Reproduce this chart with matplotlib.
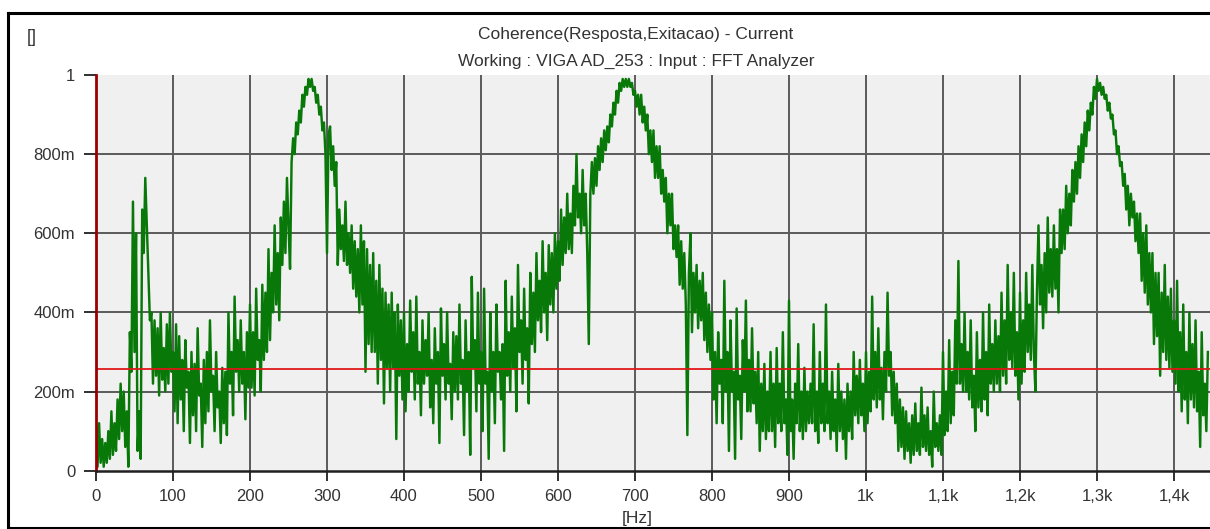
import numpy as np
import matplotlib
matplotlib.use("Agg")
import matplotlib.pyplot as plt
from matplotlib.lines import Line2D

# Coherence estimate, one sample every 2 Hz from 0 Hz to 1444 Hz
freq_step = 2
coherence = [
    # 0 - 98 Hz
    0.11, 0.01, 0.12, 0.02, 0.08, 0.01, 0.07, 0.02, 0.10, 0.03,
    0.15, 0.04, 0.12, 0.05, 0.18, 0.08, 0.22, 0.10, 0.20, 0.06,
    0.15, 0.01, 0.35, 0.25, 0.68, 0.30, 0.60, 0.05, 0.15, 0.03,
    0.66, 0.55, 0.74, 0.62, 0.50, 0.38, 0.40, 0.22, 0.38, 0.24,
    0.36, 0.19, 0.40, 0.23, 0.31, 0.20, 0.37, 0.22, 0.40, 0.25,
    # 100 - 198 Hz
    0.30, 0.15, 0.37, 0.12, 0.34, 0.18, 0.28, 0.10, 0.33, 0.21,
    0.25, 0.07, 0.30, 0.14, 0.27, 0.10, 0.36, 0.19, 0.22, 0.06,
    0.28, 0.12, 0.30, 0.15, 0.38, 0.20, 0.24, 0.10, 0.30, 0.16,
    0.20, 0.07, 0.26, 0.12, 0.25, 0.09, 0.40, 0.22, 0.30, 0.14,
    0.44, 0.25, 0.33, 0.20, 0.38, 0.22, 0.30, 0.13, 0.35, 0.21,
    # 200 - 298 Hz
    0.42, 0.21, 0.35, 0.19, 0.46, 0.28, 0.33, 0.20, 0.47, 0.28,
    0.45, 0.30, 0.56, 0.33, 0.50, 0.40, 0.62, 0.42, 0.55, 0.38,
    0.64, 0.52, 0.68, 0.55, 0.74, 0.62, 0.51, 0.78, 0.84, 0.80,
    0.88, 0.85, 0.91, 0.88, 0.95, 0.92, 0.97, 0.95, 0.99, 0.97,
    0.99, 0.96, 0.97, 0.93, 0.95, 0.90, 0.92, 0.86, 0.88, 0.80,
    # 300 - 398 Hz
    0.55, 0.85, 0.87, 0.76, 0.82, 0.72, 0.78, 0.52, 0.66, 0.56,
    0.62, 0.53, 0.68, 0.52, 0.60, 0.50, 0.62, 0.46, 0.58, 0.44,
    0.56, 0.40, 0.62, 0.42, 0.58, 0.25, 0.56, 0.32, 0.52, 0.30,
    0.55, 0.30, 0.48, 0.22, 0.52, 0.28, 0.46, 0.17, 0.45, 0.26,
    0.42, 0.20, 0.45, 0.26, 0.40, 0.08, 0.42, 0.24, 0.38, 0.18,
    # 400 - 498 Hz
    0.40, 0.15, 0.32, 0.20, 0.43, 0.25, 0.35, 0.18, 0.44, 0.22,
    0.30, 0.14, 0.38, 0.22, 0.33, 0.24, 0.40, 0.16, 0.28, 0.12,
    0.36, 0.22, 0.30, 0.07, 0.41, 0.24, 0.32, 0.18, 0.40, 0.22,
    0.27, 0.13, 0.35, 0.20, 0.34, 0.18, 0.42, 0.22, 0.28, 0.09,
    0.38, 0.20, 0.30, 0.04, 0.49, 0.26, 0.33, 0.15, 0.45, 0.22,
    # 500 - 598 Hz
    0.30, 0.10, 0.46, 0.22, 0.25, 0.03, 0.40, 0.20, 0.30, 0.12,
    0.42, 0.25, 0.30, 0.18, 0.32, 0.05, 0.48, 0.24, 0.35, 0.20,
    0.44, 0.26, 0.36, 0.15, 0.52, 0.30, 0.38, 0.22, 0.46, 0.28,
    0.36, 0.17, 0.50, 0.32, 0.45, 0.30, 0.55, 0.38, 0.48, 0.35,
    0.58, 0.40, 0.50, 0.33, 0.57, 0.42, 0.55, 0.40, 0.60, 0.46,
    # 600 - 698 Hz
    0.58, 0.48, 0.66, 0.52, 0.64, 0.55, 0.70, 0.56, 0.65, 0.55,
    0.72, 0.62, 0.80, 0.64, 0.70, 0.60, 0.76, 0.62, 0.70, 0.55,
    0.32, 0.70, 0.78, 0.70, 0.79, 0.72, 0.82, 0.76, 0.84, 0.78,
    0.86, 0.81, 0.87, 0.83, 0.90, 0.87, 0.93, 0.90, 0.96, 0.93,
    0.98, 0.96, 0.99, 0.97, 0.99, 0.97, 0.99, 0.97, 0.98, 0.95,
    # 700 - 798 Hz
    0.96, 0.92, 0.95, 0.90, 0.95, 0.88, 0.92, 0.86, 0.90, 0.80,
    0.86, 0.78, 0.86, 0.74, 0.82, 0.74, 0.82, 0.70, 0.76, 0.68,
    0.74, 0.60, 0.70, 0.62, 0.70, 0.56, 0.62, 0.54, 0.62, 0.47,
    0.58, 0.46, 0.55, 0.42, 0.09, 0.50, 0.60, 0.35, 0.50, 0.40,
    0.52, 0.36, 0.48, 0.38, 0.50, 0.33, 0.45, 0.30, 0.42, 0.28,
    # 800 - 898 Hz
    0.40, 0.18, 0.30, 0.12, 0.35, 0.22, 0.28, 0.12, 0.48, 0.20,
    0.30, 0.05, 0.38, 0.20, 0.25, 0.03, 0.41, 0.18, 0.24, 0.08,
    0.33, 0.20, 0.43, 0.15, 0.28, 0.15, 0.36, 0.17, 0.25, 0.12,
    0.30, 0.05, 0.22, 0.10, 0.27, 0.08, 0.20, 0.10, 0.30, 0.10,
    0.22, 0.06, 0.31, 0.12, 0.22, 0.10, 0.35, 0.12, 0.18, 0.04,
    # 900 - 998 Hz
    0.43, 0.10, 0.18, 0.03, 0.22, 0.12, 0.32, 0.10, 0.20, 0.08,
    0.26, 0.10, 0.20, 0.12, 0.22, 0.12, 0.37, 0.10, 0.20, 0.07,
    0.30, 0.12, 0.22, 0.10, 0.42, 0.12, 0.20, 0.08, 0.25, 0.10,
    0.18, 0.05, 0.27, 0.10, 0.20, 0.08, 0.18, 0.03, 0.22, 0.10,
    0.20, 0.08, 0.30, 0.14, 0.24, 0.12, 0.28, 0.14, 0.22, 0.10,
    # 1000 - 1098 Hz
    0.30, 0.12, 0.25, 0.15, 0.44, 0.18, 0.30, 0.16, 0.36, 0.18,
    0.26, 0.13, 0.30, 0.20, 0.45, 0.24, 0.30, 0.14, 0.25, 0.12,
    0.22, 0.05, 0.18, 0.06, 0.16, 0.03, 0.15, 0.05, 0.12, 0.02,
    0.14, 0.04, 0.17, 0.05, 0.12, 0.04, 0.21, 0.06, 0.14, 0.05,
    0.16, 0.04, 0.10, 0.01, 0.20, 0.06, 0.12, 0.05, 0.14, 0.04,
    # 1100 - 1198 Hz
    0.30, 0.09, 0.20, 0.10, 0.33, 0.12, 0.25, 0.14, 0.38, 0.22,
    0.53, 0.22, 0.32, 0.20, 0.40, 0.20, 0.30, 0.18, 0.38, 0.16,
    0.24, 0.10, 0.35, 0.16, 0.28, 0.15, 0.40, 0.18, 0.30, 0.14,
    0.42, 0.22, 0.32, 0.20, 0.38, 0.22, 0.34, 0.20, 0.45, 0.24,
    0.38, 0.22, 0.52, 0.28, 0.40, 0.26, 0.50, 0.24, 0.35, 0.18,
    # 1200 - 1298 Hz
    0.45, 0.22, 0.38, 0.25, 0.50, 0.30, 0.42, 0.28, 0.52, 0.30,
    0.20, 0.45, 0.62, 0.42, 0.52, 0.36, 0.55, 0.40, 0.64, 0.45,
    0.56, 0.44, 0.62, 0.46, 0.56, 0.40, 0.66, 0.55, 0.66, 0.56,
    0.72, 0.60, 0.70, 0.62, 0.76, 0.68, 0.78, 0.70, 0.82, 0.74,
    0.85, 0.78, 0.88, 0.82, 0.91, 0.86, 0.93, 0.90, 0.97, 0.94,
    # 1300 - 1398 Hz
    0.99, 0.96, 0.98, 0.95, 0.97, 0.94, 0.95, 0.91, 0.93, 0.89,
    0.90, 0.85, 0.86, 0.80, 0.82, 0.77, 0.78, 0.72, 0.75, 0.66,
    0.72, 0.62, 0.70, 0.64, 0.68, 0.58, 0.65, 0.55, 0.65, 0.48,
    0.60, 0.45, 0.62, 0.42, 0.55, 0.40, 0.55, 0.32, 0.50, 0.34,
    0.50, 0.24, 0.45, 0.30, 0.52, 0.28, 0.44, 0.26, 0.46, 0.25,
    # 1400 - 1444 Hz
    0.38, 0.22, 0.48, 0.20, 0.35, 0.15, 0.42, 0.18, 0.30, 0.12,
    0.40, 0.18, 0.32, 0.16, 0.38, 0.15, 0.25, 0.06, 0.35, 0.14,
    0.22, 0.10, 0.30,
]
freq = np.arange(len(coherence)) * freq_step

threshold = 0.258

x_ticks = [0, 100, 200, 300, 400, 500, 600, 700, 800, 900,
           1000, 1100, 1200, 1300, 1400]
x_tick_labels = ["0", "100", "200", "300", "400", "500", "600", "700", "800",
                 "900", "1k", "1,1k", "1,2k", "1,3k", "1,4k"]
y_ticks = [0.0, 0.2, 0.4, 0.6, 0.8, 1.0]
y_tick_labels = ["0", "200m", "400m", "600m", "800m", "1"]

title_lines = ["Coherence(Resposta,Exitacao) - Current",
               "Working : VIGA AD_253 : Input : FFT Analyzer"]

plt.rcParams["font.family"] = ["Liberation Sans", "DejaVu Sans"]

W, H = 1210, 529
fig = plt.figure(figsize=(W / 100, H / 100), dpi=100, facecolor="white")

# plot area in pixel coordinates
left_px, right_px, top_px, bottom_px = 96, 1210, 75, 470.7
ax = fig.add_axes([left_px / W, 1 - bottom_px / H,
                   (right_px - left_px) / W, (bottom_px - top_px) / H])
ax.set_facecolor("#f0f0f0")
ax.set_xlim(0, (right_px - left_px) / 0.77)
ax.set_ylim(0, 1)

grid_col = "#5a5a5a"
for xv in x_ticks[1:]:
    ax.axvline(xv, color=grid_col, lw=1.4, zorder=1)
for yv in y_ticks[1:-1]:
    ax.axhline(yv, color=grid_col, lw=1.4, zorder=1)

ax.plot(freq, coherence, color="#087808", lw=1.75, zorder=3)
ax.axhline(threshold, color="#e01818", lw=1.3, zorder=4)

for side in ("top", "right"):
    ax.spines[side].set_visible(False)
ax.spines["left"].set_color("#9a0000")
ax.spines["left"].set_linewidth(2.0)
ax.spines["bottom"].set_color("#202020")
ax.spines["bottom"].set_linewidth(1.8)
ax.spines["left"].set_zorder(5)
ax.spines["bottom"].set_zorder(5)

ax.set_xticks(x_ticks)
ax.set_xticklabels(x_tick_labels)
ax.set_yticks(y_ticks)
ax.set_yticklabels(y_tick_labels)
ax.tick_params(axis="x", length=7, width=1.4, color="#303030", pad=6,
               labelsize=12, labelcolor="#333333")
ax.tick_params(axis="y", length=9, width=1.4, color="#303030", pad=6,
               labelsize=12, labelcolor="#333333")

# titles and unit labels
fig.text(636 / W, 1 - 35 / H, title_lines[0], ha="center", va="center",
         fontsize=12.5, color="#333333")
fig.text(636 / W, 1 - 61 / H, title_lines[1], ha="center", va="center",
         fontsize=12.5, color="#333333")
fig.text(32 / W, 1 - 37 / H, "[]", ha="center", va="center",
         fontsize=13, color="#333333")
fig.text(637 / W, 1 - 518 / H, "[Hz]", ha="center", va="center",
         fontsize=12.5, color="#333333")

# window frame
frame_kw = dict(color="black", lw=2.2, transform=fig.transFigure)
fig.add_artist(Line2D([8 / W, 1], [1 - 12.5 / H, 1 - 12.5 / H], **frame_kw))
fig.add_artist(Line2D([8 / W, 8 / W], [1 - 12.5 / H, 1 - 527.5 / H], **frame_kw))
fig.add_artist(Line2D([8 / W, 1], [1 - 527.5 / H, 1 - 527.5 / H], **frame_kw))

fig.savefig("out.png", dpi=100, facecolor="white")
